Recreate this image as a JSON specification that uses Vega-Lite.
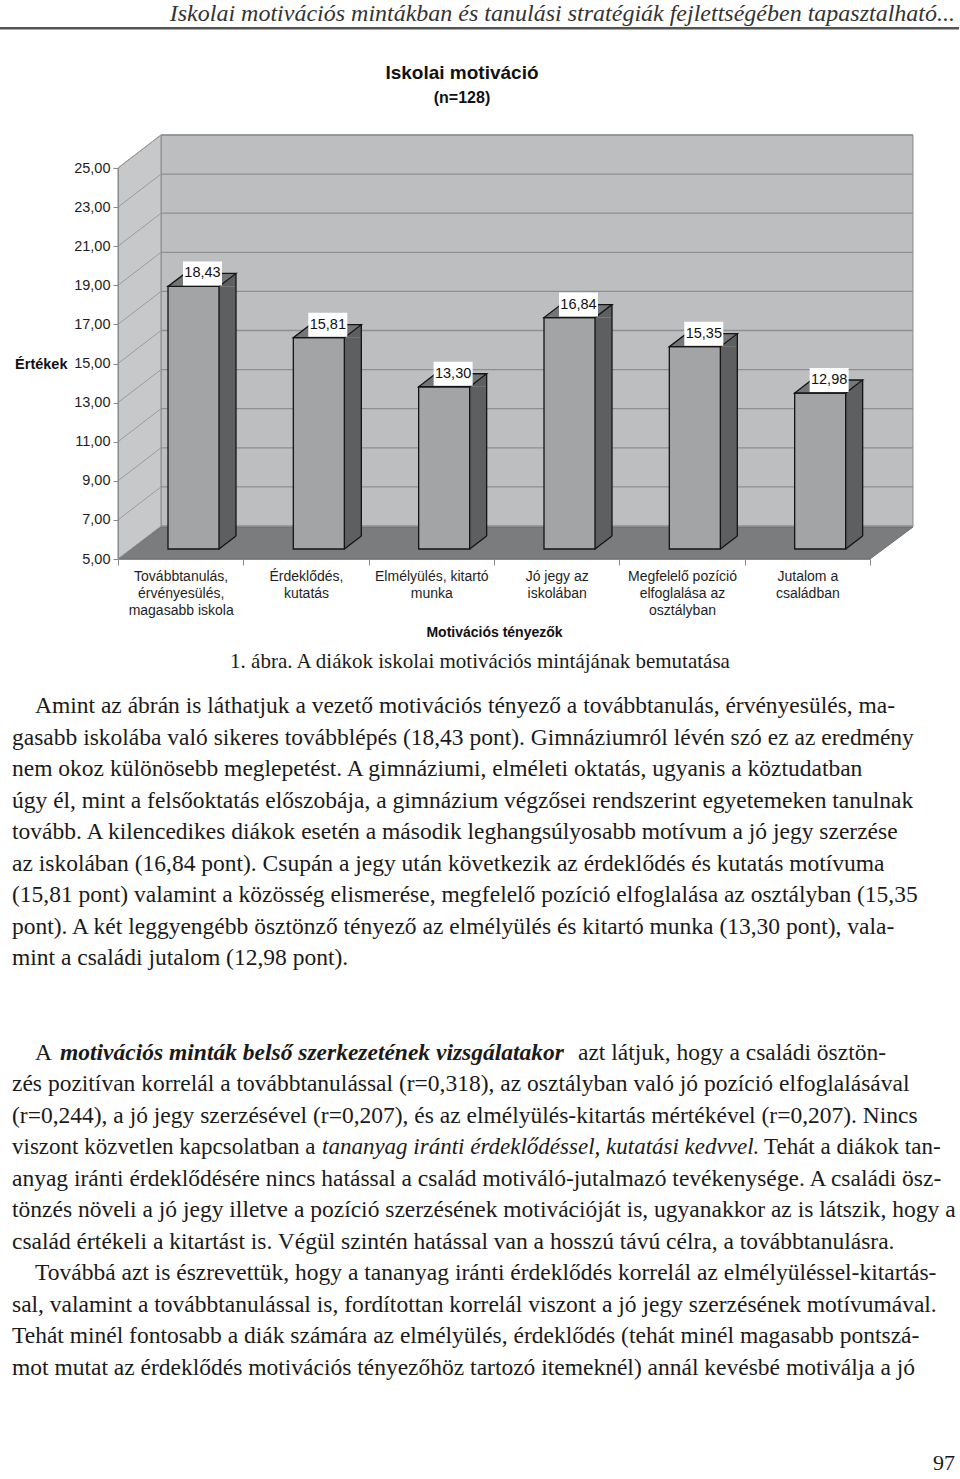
{
  "$schema": "https://vega.github.io/schema/vega-lite/v6.json",
  "width": 960,
  "height": 1479,
  "autosize": {"type": "none"},
  "padding": 0,
  "background": "#ffffff",
  "config": {
    "view": {"stroke": null},
    "locale": {"number": {"decimal": ",", "thousands": " ", "grouping": [3], "currency": ["", ""]}}
  },
  "datasets": {
    "bars": [
      {"cat": "Továbbtanulás,\nérvényesülés,\nmagasabb iskola", "v": 18.43},
      {"cat": "Érdeklődés,\nkutatás", "v": 15.81},
      {"cat": "Elmélyülés, kitartó\nmunka", "v": 13.30},
      {"cat": "Jó jegy az\niskolában", "v": 16.84},
      {"cat": "Megfelelő pozíció\nelfoglalása az\nosztályban", "v": 15.35},
      {"cat": "Jutalom a\ncsaládban", "v": 12.98}
    ],
    "ticks": [{"t": 5}, {"t": 7}, {"t": 9}, {"t": 11}, {"t": 13}, {"t": 15}, {"t": 17}, {"t": 19}, {"t": 21}, {"t": 23}, {"t": 25}],
    "lines": [
      {"line": 0, "ind": 1, "t": "Amint az ábrán is láthatjuk a vezető motivációs tényező a továbbtanulás, érvényesülés, ma-"},
      {"line": 1, "ind": 0, "t": "gasabb iskolába való sikeres továbblépés (18,43 pont). Gimnáziumról lévén szó ez az eredmény"},
      {"line": 2, "ind": 0, "t": "nem okoz különösebb meglepetést. A gimnáziumi, elméleti oktatás, ugyanis a köztudatban"},
      {"line": 3, "ind": 0, "t": "úgy él, mint a felsőoktatás előszobája, a gimnázium végzősei rendszerint egyetemeken tanulnak"},
      {"line": 4, "ind": 0, "t": "tovább. A kilencedikes diákok esetén a második leghangsúlyosabb motívum a jó jegy szerzése"},
      {"line": 5, "ind": 0, "t": "az iskolában (16,84 pont). Csupán a jegy után következik az érdeklődés és kutatás motívuma"},
      {"line": 6, "ind": 0, "t": "(15,81 pont) valamint a közösség elismerése, megfelelő pozíció elfoglalása az osztályban (15,35"},
      {"line": 7, "ind": 0, "t": "pont). A két leggyengébb ösztönző tényező az elmélyülés és kitartó munka (13,30 pont), vala-"},
      {"line": 8, "ind": 0, "t": "mint a családi jutalom (12,98 pont)."},
      {"line": 12, "ind": 0, "t": "zés pozitívan korrelál a továbbtanulással (r=0,318), az osztályban való jó pozíció elfoglalásával"},
      {"line": 13, "ind": 0, "t": "(r=0,244), a jó jegy szerzésével (r=0,207), és az elmélyülés-kitartás mértékével (r=0,207). Nincs"},
      {"line": 15, "ind": 0, "t": "anyag iránti érdeklődésére nincs hatással a család motiváló-jutalmazó tevékenysége. A családi ösz-"},
      {"line": 16, "ind": 0, "t": "tönzés növeli a jó jegy illetve a pozíció szerzésének motivációját is, ugyanakkor az is látszik, hogy a"},
      {"line": 17, "ind": 0, "t": "család értékeli a kitartást is. Végül szintén hatással van a hosszú távú célra, a továbbtanulásra."},
      {"line": 18, "ind": 1, "t": "Továbbá azt is észrevettük, hogy a tananyag iránti érdeklődés korrelál az elmélyüléssel-kitartás-"},
      {"line": 19, "ind": 0, "t": "sal, valamint a továbbtanulással is, fordítottan korrelál viszont a jó jegy szerzésének motívumával."},
      {"line": 20, "ind": 0, "t": "Tehát minél fontosabb a diák számára az elmélyülés, érdeklődés (tehát minél magasabb pontszá-"},
      {"line": 21, "ind": 0, "t": "mot mutat az érdeklődés motivációs tényezőhöz tartozó itemeknél) annál kevésbé motiválja a jó"}
    ]
  },
  "resolve": {"scale": {"x": "independent", "y": "independent"}},
  "layer": [
    {
      "layer": [
        {
          "data": {"values": [{}]},
          "mark": {"type": "point", "shape": "M-19.67,-32L-19.67,-424L732.33,-424L732.33,-32Z", "size": 4, "filled": true, "opacity": 1, "fill": "#bdbebf", "stroke": "#8a8b8c", "strokeWidth": 1},
          "encoding": {
            "x": {
              "datum": "Továbbtanulás,\nérvényesülés,\nmagasabb iskola", "type": "nominal",
              "scale": {"type": "band", "domain": ["Továbbtanulás,\nérvényesülés,\nmagasabb iskola", "Érdeklődés,\nkutatás", "Elmélyülés, kitartó\nmunka", "Jó jegy az\niskolában", "Megfelelő pozíció\nelfoglalása az\nosztályban", "Jutalom a\ncsaládban"], "range": [118, 870], "paddingInner": 0, "paddingOuter": 0},
              "axis": {
                "orient": "bottom", "offset": -920, "zindex": 1, "grid": false,
                "tickBand": "extent", "tickExtra": true, "tickSize": 6, "tickColor": "#8a8a8a", "domainColor": "#8a8a8a",
                "labelExpr": "split(datum.label, '\\n')", "labelAngle": 0, "labelFont": "Liberation Sans", "labelFontSize": 14, "labelLineHeight": 17, "labelPadding": 4, "labelBaseline": "top", "labelColor": "#1e1e1e", "labelLimit": 0,
                "title": "Motivációs tényezők", "titleFont": "Liberation Sans", "titleFontSize": 14, "titleFontWeight": "bold", "titleColor": "#111111", "titleX": 494, "titleY": 73, "titleAlign": "center", "titleBaseline": "middle"
              }
            },
            "y": {
              "datum": 5, "type": "quantitative",
              "scale": {"domain": [5, 25], "range": [559, 168], "nice": false, "zero": false},
              "axis": {
                "offset": -118, "zindex": 1, "grid": false, "values": [5, 7, 9, 11, 13, 15, 17, 19, 21, 23, 25], "format": ".2f",
                "tickSize": 5, "tickColor": "#8a8a8a", "domainColor": "#8a8a8a",
                "labelFont": "Liberation Sans", "labelFontSize": 14.5, "labelPadding": 3, "labelColor": "#1e1e1e",
                "title": "Értékek", "titleFont": "Liberation Sans", "titleFontSize": 14.5, "titleFontWeight": "bold", "titleColor": "#111111", "titleAngle": 0, "titleX": -51, "titleY": 364, "titleAlign": "right", "titleBaseline": "middle"
              }
            }
          }
        },
        {
          "data": {"values": [{}]},
          "mark": {"type": "point", "shape": "M-62.67,0L-62.67,-391L-19.67,-424L-19.67,-32Z", "size": 4, "filled": true, "opacity": 1, "fill": "#c7c8ca", "stroke": "#8a8b8c", "strokeWidth": 1},
          "encoding": {
            "x": {"datum": "Továbbtanulás,\nérvényesülés,\nmagasabb iskola", "type": "nominal"},
            "y": {"datum": 5, "type": "quantitative"}
          }
        },
        {
          "data": {"values": [{}]},
          "mark": {"type": "point", "shape": "M-62.67,0L-19.67,-32L732.33,-32L689.33,0Z", "size": 4, "filled": true, "opacity": 1, "fill": "#7b7c7e", "stroke": "#6c6d6f", "strokeWidth": 1},
          "encoding": {
            "x": {"datum": "Továbbtanulás,\nérvényesülés,\nmagasabb iskola", "type": "nominal"},
            "y": {"datum": 5, "type": "quantitative"}
          }
        },
        {
          "data": {"name": "ticks"},
          "mark": {"type": "rule", "stroke": "#8e8f91", "strokeWidth": 1.3, "xOffset": -19.67, "x2Offset": 105.67, "yOffset": -33},
          "encoding": {
            "x": {"datum": "Továbbtanulás,\nérvényesülés,\nmagasabb iskola", "type": "nominal"},
            "x2": {"datum": "Jutalom a\ncsaládban"},
            "y": {"field": "t", "type": "quantitative"}
          }
        },
        {
          "data": {"name": "ticks"},
          "mark": {"type": "rule", "stroke": "#9a9b9d", "strokeWidth": 1, "xOffset": -62.67, "x2Offset": -19.67, "y2Offset": -33},
          "encoding": {
            "x": {"datum": "Továbbtanulás,\nérvényesülés,\nmagasabb iskola", "type": "nominal"},
            "x2": {"datum": "Továbbtanulás,\nérvényesülés,\nmagasabb iskola"},
            "y": {"field": "t", "type": "quantitative"},
            "y2": {"field": "t"}
          }
        },
        {
          "data": {"name": "bars"},
          "mark": {"type": "bar", "width": 17, "xOffset": 46.83, "yOffset": -10, "y2Offset": -23, "fill": "#5e5f61", "strokeWidth": 0},
          "encoding": {
            "x": {"field": "cat", "type": "nominal"},
            "y": {"field": "v", "type": "quantitative"},
            "y2": {"datum": 5}
          }
        },
        {
          "data": {"name": "bars"},
          "mark": {"type": "point", "shape": "M0,0L17,-13L17,0Z", "size": 4, "filled": true, "opacity": 1, "fill": "#5e5f61", "strokeWidth": 0, "xOffset": 38.33, "yOffset": -10},
          "encoding": {
            "x": {"field": "cat", "type": "nominal"},
            "y": {"field": "v", "type": "quantitative"}
          }
        },
        {
          "data": {"name": "bars"},
          "mark": {"type": "point", "shape": "M0,-13L17,-13L0,0Z", "size": 4, "filled": true, "opacity": 1, "fill": "#5e5f61", "strokeWidth": 0, "xOffset": 38.33, "yOffset": -10},
          "encoding": {
            "x": {"field": "cat", "type": "nominal"},
            "y": {"datum": 5, "type": "quantitative"}
          }
        },
        {
          "data": {"name": "bars"},
          "mark": {"type": "bar", "width": 51, "xOffset": 12.83, "yOffset": -10, "y2Offset": -10, "fill": "#a2a4a6", "stroke": "#141414", "strokeWidth": 1.3},
          "encoding": {
            "x": {"field": "cat", "type": "nominal"},
            "y": {"field": "v", "type": "quantitative"},
            "y2": {"datum": 5}
          }
        },
        {
          "data": {"name": "bars"},
          "mark": {"type": "point", "shape": "M-51,0L0,0L17,-13L-34,-13Z", "size": 4, "filled": true, "opacity": 1, "fill": "#757678", "stroke": "#141414", "strokeWidth": 1.3, "xOffset": 38.33, "yOffset": -10},
          "encoding": {
            "x": {"field": "cat", "type": "nominal"},
            "y": {"field": "v", "type": "quantitative"}
          }
        },
        {
          "data": {"name": "bars"},
          "mark": {"type": "rule", "stroke": "#141414", "strokeWidth": 1.3, "xOffset": 55.33, "yOffset": -23, "y2Offset": -23},
          "encoding": {
            "x": {"field": "cat", "type": "nominal"},
            "y": {"field": "v", "type": "quantitative"},
            "y2": {"datum": 5}
          }
        },
        {
          "data": {"name": "bars"},
          "mark": {"type": "point", "shape": "M0,0L17,-13", "size": 4, "filled": false, "opacity": 1, "fill": null, "stroke": "#141414", "strokeWidth": 1.3, "xOffset": 38.33, "yOffset": -10},
          "encoding": {
            "x": {"field": "cat", "type": "nominal"},
            "y": {"datum": 5, "type": "quantitative"}
          }
        },
        {
          "data": {"name": "bars"},
          "mark": {"type": "point", "shape": "M-19.5,-12L19.5,-12L19.5,12L-19.5,12Z", "size": 4, "filled": true, "opacity": 1, "fill": "#ffffff", "strokeWidth": 0, "xOffset": 21.8, "yOffset": -23},
          "encoding": {
            "x": {"field": "cat", "type": "nominal"},
            "y": {"field": "v", "type": "quantitative"}
          }
        },
        {
          "data": {"name": "bars"},
          "mark": {"type": "text", "font": "Liberation Sans", "fontSize": 14.5, "fill": "#111111", "align": "center", "baseline": "middle", "xOffset": 21.8, "yOffset": -23},
          "encoding": {
            "x": {"field": "cat", "type": "nominal"},
            "y": {"field": "v", "type": "quantitative"},
            "text": {"field": "v", "type": "quantitative", "format": ".2f"}
          }
        },
        {
          "data": {"values": [{"t": "Iskolai motiváció"}]},
          "mark": {"type": "text", "font": "Liberation Sans", "fontSize": 19, "fontWeight": "bold", "fill": "#111111", "align": "center", "baseline": "middle", "xOffset": 30.67, "yOffset": -95},
          "encoding": {
            "x": {"datum": "Elmélyülés, kitartó\nmunka", "type": "nominal"},
            "y": {"datum": 25, "type": "quantitative"},
            "text": {"field": "t"}
          }
        },
        {
          "data": {"values": [{"t": "(n=128)"}]},
          "mark": {"type": "text", "font": "Liberation Sans", "fontSize": 16, "fontWeight": "bold", "fill": "#111111", "align": "center", "baseline": "middle", "xOffset": 30.67, "yOffset": -70},
          "encoding": {
            "x": {"datum": "Elmélyülés, kitartó\nmunka", "type": "nominal"},
            "y": {"datum": 25, "type": "quantitative"},
            "text": {"field": "t"}
          }
        }
      ]
    },
    {
      "layer": [
        {
          "data": {"values": [{"t": "Iskolai motivációs mintákban és tanulási stratégiák fejlettségében tapasztalható..."}]},
          "mark": {"type": "text", "font": "Liberation Serif", "fontSize": 24, "fontStyle": "italic", "fill": "#333333", "align": "right", "baseline": "alphabetic"},
          "encoding": {
            "x": {"datum": 1, "type": "quantitative", "scale": {"domain": [0, 1], "range": [12, 955], "nice": false, "zero": false}, "axis": null},
            "y": {"datum": -21.73, "type": "quantitative", "scale": {"domain": [0, 21], "range": [706, 1368], "nice": false, "zero": false}, "axis": null},
            "text": {"field": "t"}
          }
        },
        {
          "data": {"values": [{}]},
          "mark": {"type": "rule", "stroke": "#555555", "strokeWidth": 2.5, "xOffset": -12, "x2Offset": 4},
          "encoding": {
            "x": {"datum": 0, "type": "quantitative"},
            "x2": {"datum": 1},
            "y": {"datum": -21.5, "type": "quantitative"}
          }
        },
        {
          "data": {"values": [{"t": "1. ábra. A diákok iskolai motivációs mintájának bemutatása"}]},
          "mark": {"type": "text", "font": "Liberation Serif", "fontSize": 21, "fill": "#1a1a1a", "align": "center", "baseline": "middle"},
          "encoding": {
            "y": {"datum": -1.4, "type": "quantitative"},
            "text": {"field": "t"}
          }
        },
        {
          "data": {"name": "lines"},
          "transform": [{"filter": "datum.ind == 0"}],
          "mark": {"type": "text", "font": "Liberation Serif", "fontSize": 23.5, "fill": "#1a1a1a", "align": "left", "baseline": "middle"},
          "encoding": {
            "x": {"datum": 0, "type": "quantitative"},
            "y": {"field": "line", "type": "quantitative"},
            "text": {"field": "t"}
          }
        },
        {
          "data": {"name": "lines"},
          "transform": [{"filter": "datum.ind == 1"}],
          "mark": {"type": "text", "font": "Liberation Serif", "fontSize": 23.5, "fill": "#1a1a1a", "align": "left", "baseline": "middle", "dx": 23},
          "encoding": {
            "x": {"datum": 0, "type": "quantitative"},
            "y": {"field": "line", "type": "quantitative"},
            "text": {"field": "t"}
          }
        },
        {
          "data": {"values": [{"line": 11, "t": "A"}]},
          "mark": {"type": "text", "font": "Liberation Serif", "fontSize": 23.5, "fill": "#1a1a1a", "align": "left", "baseline": "middle", "dx": 23},
          "encoding": {
            "x": {"datum": 0, "type": "quantitative"},
            "y": {"field": "line", "type": "quantitative"},
            "text": {"field": "t"}
          }
        },
        {
          "data": {"values": [{"line": 11, "t": "motivációs minták belső szerkezetének vizsgálatakor"}]},
          "mark": {"type": "text", "font": "Liberation Serif", "fontSize": 23.5, "fontWeight": "bold", "fontStyle": "italic", "fill": "#1a1a1a", "align": "left", "baseline": "middle", "dx": 48},
          "encoding": {
            "x": {"datum": 0, "type": "quantitative"},
            "y": {"field": "line", "type": "quantitative"},
            "text": {"field": "t"}
          }
        },
        {
          "data": {"values": [{"line": 11, "t": "azt látjuk, hogy a családi ösztön-"}]},
          "mark": {"type": "text", "font": "Liberation Serif", "fontSize": 23.5, "fill": "#1a1a1a", "align": "left", "baseline": "middle", "dx": 566},
          "encoding": {
            "x": {"datum": 0, "type": "quantitative"},
            "y": {"field": "line", "type": "quantitative"},
            "text": {"field": "t"}
          }
        },
        {
          "data": {"values": [{"line": 14, "t": "viszont közvetlen kapcsolatban a"}]},
          "mark": {"type": "text", "font": "Liberation Serif", "fontSize": 23, "fill": "#1a1a1a", "align": "left", "baseline": "middle"},
          "encoding": {
            "x": {"datum": 0, "type": "quantitative"},
            "y": {"field": "line", "type": "quantitative"},
            "text": {"field": "t"}
          }
        },
        {
          "data": {"values": [{"line": 14, "t": "tananyag iránti érdeklődéssel, kutatási kedvvel."}]},
          "mark": {"type": "text", "font": "Liberation Serif", "fontSize": 23, "fontStyle": "italic", "fill": "#1a1a1a", "align": "left", "baseline": "middle", "dx": 310},
          "encoding": {
            "x": {"datum": 0, "type": "quantitative"},
            "y": {"field": "line", "type": "quantitative"},
            "text": {"field": "t"}
          }
        },
        {
          "data": {"values": [{"line": 14, "t": "Tehát a diákok tan-"}]},
          "mark": {"type": "text", "font": "Liberation Serif", "fontSize": 23, "fill": "#1a1a1a", "align": "left", "baseline": "middle", "dx": 752},
          "encoding": {
            "x": {"datum": 0, "type": "quantitative"},
            "y": {"field": "line", "type": "quantitative"},
            "text": {"field": "t"}
          }
        },
        {
          "data": {"values": [{"line": 24, "t": "97"}]},
          "mark": {"type": "text", "font": "Liberation Serif", "fontSize": 22, "fill": "#1a1a1a", "align": "right", "baseline": "middle"},
          "encoding": {
            "x": {"datum": 1, "type": "quantitative"},
            "y": {"field": "line", "type": "quantitative"},
            "text": {"field": "t"}
          }
        }
      ]
    }
  ]
}
